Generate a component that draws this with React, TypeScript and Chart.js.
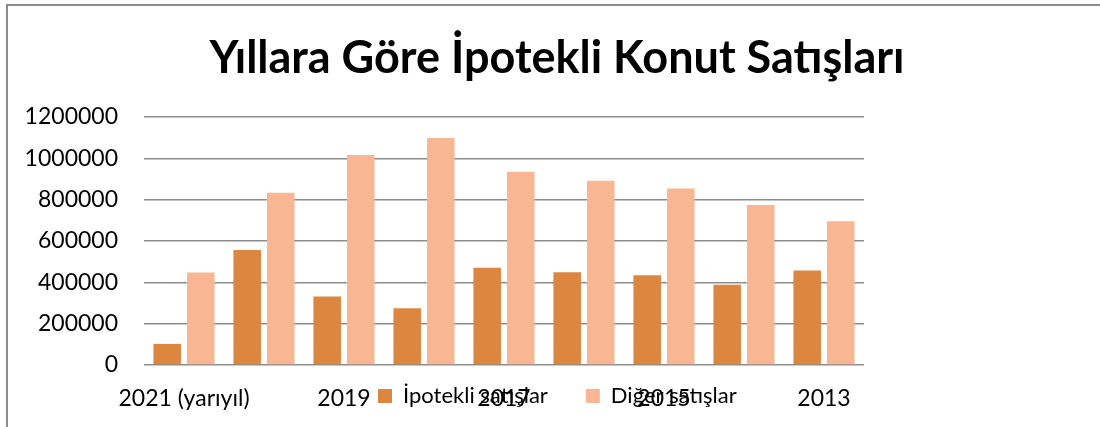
import React, { useEffect, useRef } from 'react';
import { Chart, registerables } from 'chart.js';

Chart.register(...registerables);

const chartTitle = 'Yıllara Göre İpotekli Konut Satışları';
const categories = ['2021 (yarıyıl)', '2020', '2019', '2018', '2017', '2016', '2015', '2014', '2013'];
const seriesNames = ['İpotekli satışlar', 'Diğer satışlar'];
const ipotekliSatislar = [102000, 557000, 331000, 275000, 471000, 449000, 434000, 388000, 457000];
const digerSatislar = [447000, 833000, 1016000, 1098000, 935000, 891000, 854000, 774000, 695000];
const yMin = 0;
const yMax = 1200000;
const yStep = 200000;

const FONT = 'Lato';

const boxPlacer = {
  id: 'boxPlacer',
  afterLayout(chart: any) {
    const lg = chart.legend;
    if (lg) {
      const pad = lg.options.labels.padding;
      lg.left = 378 - pad;
      lg.right = 1100;
      lg.width = lg.right - lg.left;
      lg.top = 385 - pad;
      lg.height = 40 + 2 * pad;
      lg.bottom = lg.top + lg.height;
    }
    const tb = chart.titleBlock;
    if (tb) {
      tb.left = 0;
      tb.right = 1114;
      tb.width = tb.right - tb.left;
    }
  },
};

export default function App() {
  const ref = useRef<HTMLCanvasElement>(null);
  useEffect(() => {
    if (!ref.current) return;
    const chart = new Chart(ref.current, {
      type: 'bar',
      data: {
        labels: categories,
        datasets: [
          {
            label: seriesNames[0],
            data: ipotekliSatislar,
            backgroundColor: '#DD8640',
            categoryPercentage: 0.84,
            barPercentage: 0.82,
          },
          {
            label: seriesNames[1],
            data: digerSatislar,
            backgroundColor: '#F8B692',
            categoryPercentage: 0.84,
            barPercentage: 0.82,
          },
        ],
      },
      options: {
        animation: false,
        responsive: true,
        maintainAspectRatio: false,
        layout: { padding: { left: 0, right: 236, top: 0, bottom: 0 } },
        plugins: {
          tooltip: { enabled: false },
          title: {
            display: true,
            text: chartTitle,
            color: '#000',
            font: { family: FONT, size: 45, weight: 'bold' },
            padding: { top: 31, bottom: 32 },
          },
          legend: {
            position: 'bottom',
            align: 'start',
            maxHeight: 1,
            labels: {
              boxWidth: 14,
              boxHeight: 14,
              padding: 38,
              color: '#000',
              font: { family: FONT, size: 22 },
            },
          } as any,
        },
        scales: {
          x: {
            grid: { display: false, drawTicks: false },
            border: { display: false },
            ticks: {
              autoSkip: false,
              maxRotation: 0,
              minRotation: 0,
              padding: 20,
              color: '#000',
              font: { family: FONT, size: 23 },
              callback: (_v: any, i: number) => (i % 2 === 0 ? categories[i] : ''),
            },
            afterFit: (s: any) => {
              s.height = 61;
            },
          },
          y: {
            min: yMin,
            max: yMax,
            grid: { color: '#8c8c8c', lineWidth: 1.5, drawTicks: false },
            border: { display: false },
            ticks: {
              stepSize: yStep,
              padding: 26,
              color: '#000',
              font: { family: FONT, size: 23 },
              callback: (v: any) => String(v),
            },
            afterFit: (s: any) => {
              s.width = 144;
            },
          },
        },
      },
      plugins: [boxPlacer],
    });
    return () => chart.destroy();
  }, []);

  return (
    <div style={{ position: 'fixed', left: 0, top: 0, width: 1100, height: 427, overflow: 'hidden', background: '#fff' }}>
      <div
        style={{
          position: 'absolute',
          left: 6,
          top: 4,
          width: 1200,
          height: 500,
          borderTop: '2px solid #8c8c8c',
          borderLeft: '2px solid #8c8c8c',
        }}
      />
      <div style={{ position: 'absolute', left: 0, top: 0, width: 1100, height: 427 }}>
        <canvas ref={ref} />
      </div>
    </div>
  );
}
